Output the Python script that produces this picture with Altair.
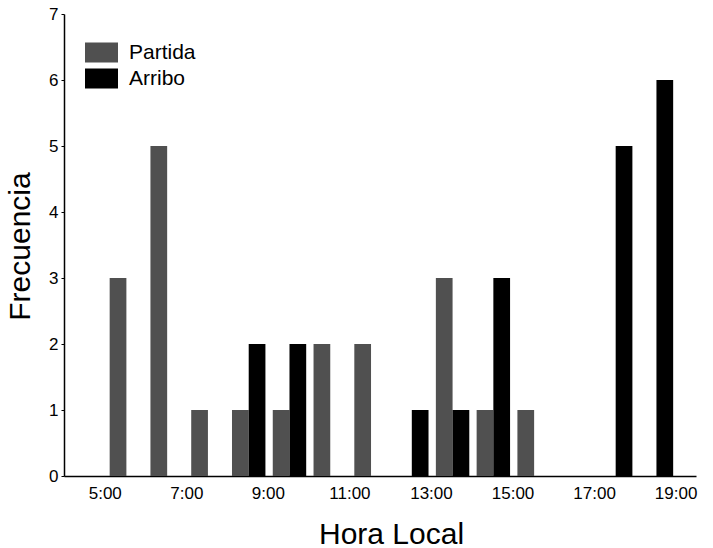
import altair as alt
import pandas as pd

hours = [5, 6, 7, 8, 9, 10, 11, 12, 13, 14, 15, 16, 17, 18]
partida = [3, 5, 1, 1, 1, 2, 2, 0, 3, 1, 1, 0, 0, 0]
arribo = [0, 0, 0, 2, 2, 0, 0, 1, 1, 3, 0, 0, 5, 6]
series = ["Partida", "Arribo"]
x_ticks = [5, 7, 9, 11, 13, 15, 17, 19]
y_ticks = [0, 1, 2, 3, 4, 5, 6, 7]

rows = []
for h, p, a in zip(hours, partida, arribo):
    rows.append({"hora": h, "serie": "Partida", "idx": 0, "freq": p})
    rows.append({"hora": h, "serie": "Arribo", "idx": 1, "freq": a})
df = pd.DataFrame(rows)
df = df[df["freq"] > 0]

FONT = "Liberation Sans"

bars = alt.Chart(df).transform_calculate(
    x0="datum.hora + 0.12 + datum.idx * 0.41",
    x1="datum.hora + 0.53 + datum.idx * 0.41",
).mark_rect().encode(
    x=alt.X(
        "x0:Q",
        scale=alt.Scale(domain=[4, 19.5], nice=False, zero=False),
        axis=alt.Axis(
            values=x_ticks,
            labelExpr="datum.value + ':00'",
            title="Hora Local",
            grid=False,
            ticks=False,
            labelPadding=9,
            labelFontSize=17,
            labelFont=FONT,
            labelColor="#000",
            titleFontSize=30,
            titleFont=FONT,
            titleFontWeight="normal",
            titleColor="#000",
            titleX=327,
            titleY=67,
            titleAlign="center",
            titleBaseline="alphabetic",
            domainColor="#000",
            domainWidth=1.5,
        ),
    ),
    x2="x1:Q",
    y=alt.Y(
        "freq:Q",
        scale=alt.Scale(domain=[0, 7], nice=False),
        axis=alt.Axis(
            values=y_ticks,
            title="Frecuencia",
            grid=False,
            tickSize=3,
            tickColor="#000",
            labelPadding=3,
            labelFontSize=17,
            labelFont=FONT,
            labelColor="#000",
            titleFontSize=30,
            titleFont=FONT,
            titleFontWeight="normal",
            titleColor="#000",
            titleX=-44,
            titleY=232,
            titleAngle=270,
            titleAlign="center",
            titleBaseline="middle",
            domainColor="#000",
            domainWidth=1.5,
        ),
    ),
    y2=alt.datum(0),
    color=alt.Color(
        "serie:N",
        scale=alt.Scale(domain=series, range=["#505050", "#000000"]),
        legend=alt.Legend(
            title=None,
            orient="none",
            legendX=27,
            legendY=28,
            symbolType="M-1.65,-1L1.65,-1L1.65,1L-1.65,1Z",
            symbolSize=400,
            symbolStrokeWidth=0,
            symbolOpacity=1,
            labelFontSize=21,
            labelFont=FONT,
            labelColor="#000",
            labelOffset=17,
            rowPadding=4,
        ),
    ),
)

chart = bars.properties(
    width=632,
    height=462,
    autosize=alt.AutoSizeParams(type="none"),
    padding={"left": 64, "top": 14, "right": 17, "bottom": 72},
).configure(
    background="white",
    view=alt.ViewConfig(strokeWidth=0, stroke="transparent"),
)

chart.save("out.html", embed_options={"renderer": "svg", "actions": False})
